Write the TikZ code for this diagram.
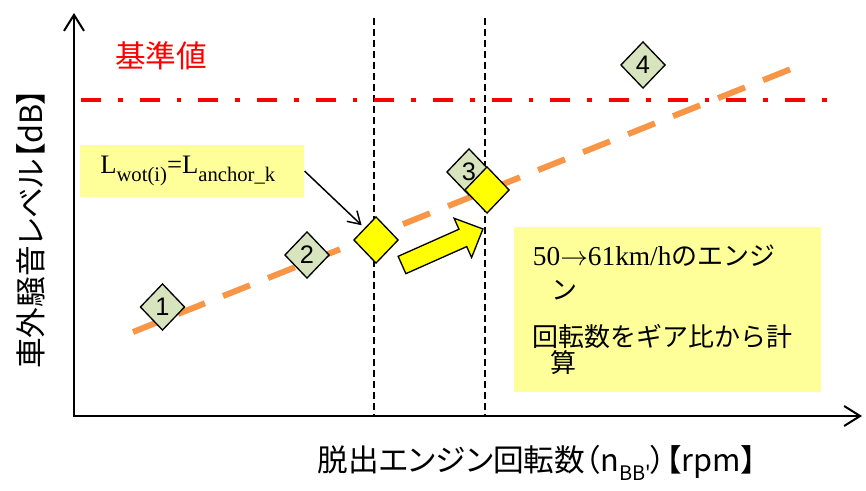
\documentclass[tikz,border=0pt]{standalone}
\usepackage{fontspec}
\setmainfont{Liberation Serif}
\setsansfont{Liberation Sans}
\newfontfamily\jp{Noto Sans CJK JP}
\newfontfamily\jpp[RawFeature=+palt]{Noto Sans CJK JP}
\usetikzlibrary{shapes.geometric,arrows.meta}
\definecolor{refred}{HTML}{FF0000}
\definecolor{curve}{HTML}{F79646}
\definecolor{dgreen}{HTML}{D7E4BD}
\definecolor{lyellow}{HTML}{FFFF99}
\definecolor{ydia}{HTML}{FFFF00}
\tikzset{
  axis/.style={line width=1.5pt, {Straight Barb[length=12pt,width=15pt]}-{Straight Barb[length=12pt,width=15pt]}},
  vline/.style={line width=1.2pt, dash pattern=on 5.25pt off 3pt},
  refline/.style={draw=refred, line width=3.6pt, dash pattern=on 15pt off 12.75pt on 3.5pt off 12.75pt},
  curveline/.style={draw=curve, line width=4.5pt, dash pattern=on 21.75pt off 14.6pt},
  dia/.style={diamond, draw=black, line width=1pt, minimum width=33.5pt, minimum height=35pt, inner sep=0pt, font=\sffamily\fontsize{19}{19}\selectfont},
  gdia/.style={dia, fill=dgreen},
  ydiam/.style={dia, fill=ydia},
  notebox/.style={fill=lyellow, inner sep=0pt},
  ptr/.style={line width=1.1pt, -{Straight Barb[length=9pt,width=11pt]}, shorten >=3pt},
  bigarrow/.style={draw=black, line width=1pt, fill=ydia}
}
\begin{document}
\begin{tikzpicture}[x=0.75pt,y=-0.75pt]
\useasboundingbox (0,0) rectangle (866,491);

% coordinates
\coordinate (Ytop) at (74,13);
\coordinate (O) at (74,416);
\coordinate (Xend) at (862,416);
\coordinate (v1t) at (374,18);
\coordinate (v1b) at (374,416);
\coordinate (v2t) at (485,18);
\coordinate (v2b) at (485,416);
\coordinate (o1) at (133,332);
\coordinate (o2) at (791,69);
\coordinate (r1) at (81,100);
\coordinate (r2) at (828,100);

% vertical dashed lines
\draw[vline] (v1t) -- (v1b);
\draw[vline] (v2t) -- (v2b);

% reference level and curve
\draw[refline] (r1) -- (r2);
\draw[curveline] (o1) -- (o2);

% axes
\draw[axis] (Ytop) -- (O) -- (Xend);

% labels
\node[font=\jpp\fontsize{23}{23}\selectfont, rotate=90] (ylab) at (31,229) {車外騒音レベル【dB】};
\node[font=\jpp\fontsize{23}{23}\selectfont] (xlab) at (537,463) {脱出エンジン回転数（n\raisebox{-0.3em}{\fontsize{15}{15}\selectfont BB'}）【rpm】};
\node[font=\jp\fontsize{23}{23}\selectfont, text=refred] (kijun) at (161,56) {基準値};

% note boxes
\node[notebox, anchor=west, minimum width=168pt, minimum height=39pt, inner xsep=15pt, text width=138pt, align=left] (lbox) at (80,171)
  {\fontsize{20}{20}\selectfont L\raisebox{-0.33em}{\fontsize{15.5}{15.5}\selectfont wot(i)}=L\raisebox{-0.33em}{\fontsize{15.5}{15.5}\selectfont anchor\_k}};
\node[notebox, anchor=north west, text width=202pt, inner xsep=14pt, minimum height=123.75pt, align=left] (nbox) at (514,227)
  {\fontsize{20.5}{25.5}\selectfont 50$\rightarrow$61km/h{\fontsize{19.5}{25.5}\selectfont\jp のエンジ}\\
   \hspace*{14pt}{\fontsize{19.5}{25.5}\selectfont\jp ン}\\[10pt]
   {\fontsize{19.5}{25.5}\selectfont\jp 回転数をギア比から計}\\
   \hspace*{13pt}{\fontsize{19.5}{25.5}\selectfont\jp 算}};

% diamonds
\node[gdia] (d1) at (162.5,307) {1};
\node[gdia] (d2) at (307,255) {2};
\node[gdia] (d3) at (469,172) {3};
\node[gdia] (d4) at (643,65) {4};
\node[ydiam] (ya) at (376,240) {};
\node[ydiam] (yb) at (487,190) {};

% pointer arrow
\draw[ptr] (lbox.east) -- (ya.north west);

% big yellow arrow
\begin{scope}[shift={(402,265)}, rotate=24]
  \draw[bigarrow] (0,-9.5) -- (66.6,-9.5) -- (66.6,-21.5) -- (88.6,0) -- (66.6,21.5) -- (66.6,9.5) -- (0,9.5) -- cycle;
\end{scope}
\end{tikzpicture}
\end{document}
